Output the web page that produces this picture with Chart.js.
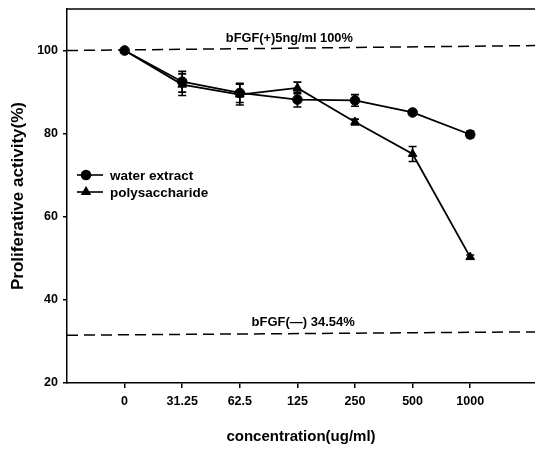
<!DOCTYPE html>
<html><head><meta charset="utf-8">
<script src="https://cdn.jsdelivr.net/npm/chart.js@4.4.0/dist/chart.umd.min.js"></script>
<style>html,body{margin:0;padding:0;background:#fff}</style>
</head><body>
<canvas id="c" width="535" height="449"></canvas>
<script>
const categories = ['0','31.25','62.5','125','250','500','1000'];
const waterExtract = [100, 92.5, 89.8, 88.2, 88.0, 85.1, 79.8];
const waterExtractErr = [0, 2.5, 2.3, 1.8, 1.4, 0.6, 0.8];
const polysaccharide = [100, 91.8, 89.4, 91.0, 82.8, 75.1, 50.3];
const polysaccharideErr = [0, 2.6, 2.5, 1.4, 0.7, 1.8, 0.5];
const yTicks = [20, 40, 60, 80, 100];
const refUpper = [100, 101.2];
const refLower = [31.5, 32.3];
const refUpperLabel = 'bFGF(+)5ng/ml 100%';
const refLowerLabel = 'bFGF(\u2014) 34.54%';
const seriesNames = ['water extract', 'polysaccharide'];

const FONT = "Arial, 'Liberation Sans', sans-serif";
const X_MIN = -1, X_MAX = 7.125;

const toPts = arr => arr.map((v, i) => ({x: i, y: v}));

const errorBars = {
  id: 'errorBars',
  afterDatasetsDraw(chart) {
    const {ctx, scales: {x, y}} = chart;
    const sets = [[waterExtract, waterExtractErr], [polysaccharide, polysaccharideErr]];
    ctx.save();
    ctx.strokeStyle = '#000';
    ctx.lineWidth = 1.6;
    sets.forEach(([vals, errs]) => {
      vals.forEach((v, i) => {
        const e = errs[i];
        if (!e) return;
        const px = x.getPixelForValue(i);
        const t = y.getPixelForValue(v + e), b = y.getPixelForValue(v - e);
        ctx.beginPath();
        ctx.moveTo(px, t); ctx.lineTo(px, b);
        ctx.moveTo(px - 4, t); ctx.lineTo(px + 4, t);
        ctx.moveTo(px - 4, b); ctx.lineTo(px + 4, b);
        ctx.stroke();
      });
    });
    ctx.restore();
  }
};

const decorations = {
  id: 'decorations',
  afterDraw(chart) {
    const {ctx, chartArea: a, scales: {x, y}} = chart;
    ctx.save();
    ctx.strokeStyle = '#000';
    ctx.lineWidth = 1.5;
    ctx.beginPath();
    ctx.moveTo(a.left, a.top); ctx.lineTo(a.right, a.top);
    ctx.stroke();
    ctx.fillStyle = '#000';
    ctx.font = 'bold 12.8px ' + FONT;
    ctx.textAlign = 'center';
    ctx.textBaseline = 'middle';
    const ux = 2.86, lxv = 3.1;
    const midU = refUpper[0] + (refUpper[1] - refUpper[0]) * (ux - X_MIN) / (X_MAX - X_MIN);
    ctx.fillText(refUpperLabel, x.getPixelForValue(ux), y.getPixelForValue(midU) - 10);
    ctx.font = 'bold 13px ' + FONT;
    const midL = refLower[0] + (refLower[1] - refLower[0]) * (lxv - X_MIN) / (X_MAX - X_MIN);
    ctx.fillText(refLowerLabel, x.getPixelForValue(lxv), y.getPixelForValue(midL) - 11);
    const lx = a.left + 10, ly = [175, 192];
    const styles = ['circle', 'triangle'];
    ctx.textAlign = 'left';
    ctx.font = 'bold 13.5px ' + FONT;
    seriesNames.forEach((name, k) => {
      ctx.strokeStyle = '#000';
      ctx.lineWidth = 1.6;
      ctx.beginPath();
      ctx.moveTo(lx, ly[k]); ctx.lineTo(lx + 26, ly[k]);
      ctx.stroke();
      Chart.helpers.drawPoint(ctx, {pointStyle: styles[k], radius: 4.5, borderWidth: 1}, lx + 9, ly[k]);
      ctx.fill();
      ctx.fillText(name, lx + 33, ly[k] + 1);
    });
    ctx.restore();
  }
};

new Chart(document.getElementById('c'), {
  type: 'line',
  data: {
    datasets: [
      {label: seriesNames[0], data: toPts(waterExtract), borderColor: '#000', backgroundColor: '#000',
       borderWidth: 1.8, pointStyle: 'circle', pointRadius: 4.8, pointBorderWidth: 1},
      {label: seriesNames[1], data: toPts(polysaccharide), borderColor: '#000', backgroundColor: '#000',
       borderWidth: 1.8, pointStyle: 'triangle', pointRadius: 5, pointBorderWidth: 1},
      {label: 'upper', data: [{x: X_MIN, y: refUpper[0]}, {x: X_MAX, y: refUpper[1]}], borderColor: '#000',
       borderWidth: 1.5, borderDash: [11, 6], pointRadius: 0},
      {label: 'lower', data: [{x: X_MIN, y: refLower[0]}, {x: X_MAX, y: refLower[1]}], borderColor: '#000',
       borderWidth: 1.5, borderDash: [11, 6], pointRadius: 0}
    ]
  },
  options: {
    responsive: false,
    devicePixelRatio: 1,
    animation: false,
    layout: {autoPadding: false, padding: {top: 9, right: 0, left: 0, bottom: 0}},
    plugins: {legend: {display: false}, tooltip: {enabled: false}},
    scales: {
      x: {
        type: 'linear', min: X_MIN, max: X_MAX,
        afterBuildTicks: s => { s.ticks = categories.map((c, i) => ({value: i})); },
        afterFit: s => { s.height = 66; s.paddingRight = 0; s.paddingLeft = 0; },
        ticks: {callback: v => categories[v], color: '#000', font: {family: FONT, size: 12.5, weight: 'bold'}, padding: 6, maxRotation: 0},
        grid: {drawOnChartArea: false, drawTicks: true, tickLength: 5, color: '#000', lineWidth: 1.5},
        border: {display: true, color: '#000', width: 1.5},
        title: {display: true, text: 'concentration(ug/ml)', color: '#000', font: {family: FONT, size: 15, weight: 'bold'}, padding: {top: 0, bottom: 3}}
      },
      y: {
        min: 20, max: 110,
        afterBuildTicks: s => { s.ticks = yTicks.map(v => ({value: v})); },
        afterFit: s => { s.width = 67; s.paddingTop = 0; s.paddingBottom = 0; },
        ticks: {color: '#000', font: {family: FONT, size: 12.5, weight: 'bold'}, padding: 5},
        grid: {drawOnChartArea: false, drawTicks: true, tickLength: 4, color: '#000', lineWidth: 1.5},
        border: {display: true, color: '#000', width: 1.5},
        title: {display: true, text: 'Proliferative activity(%)', color: '#000', font: {family: FONT, size: 17, weight: 'bold'}, padding: {top: 8, bottom: 0}}
      }
    }
  },
  plugins: [errorBars, decorations]
});
</script>
</body></html>
